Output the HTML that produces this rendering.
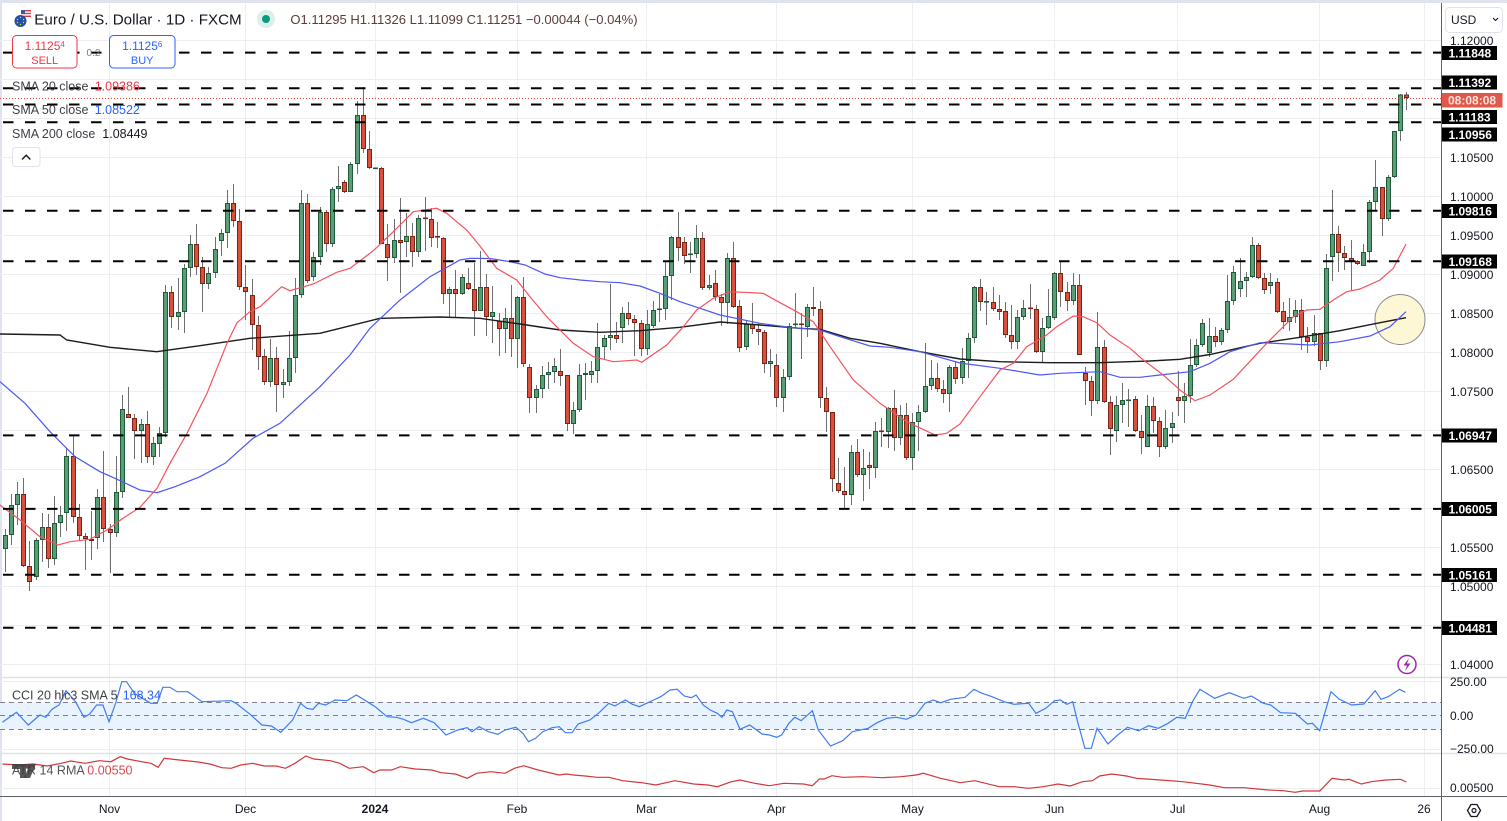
<!DOCTYPE html>
<html><head><meta charset="utf-8">
<style>
html,body{margin:0;padding:0;background:#fff;}
body{width:1507px;height:821px;overflow:hidden;}
svg{display:block;font-family:"Liberation Sans",sans-serif;}
</style></head>
<body>
<svg width="1507" height="821" viewBox="0 0 1507 821">
<rect x="0" y="0" width="1507" height="821" fill="#fff"/>
<!-- frame -->
<rect x="0" y="0" width="1507" height="3" fill="#e0e3ed"/>
<rect x="0" y="0" width="2" height="821" fill="#e0e3ed"/>

<!-- horizontal grid main -->
<g stroke="#eceef2" stroke-width="1">
<line x1="0" x2="1441" y1="40.5" y2="40.5"/><line x1="0" x2="1441" y1="79.5" y2="79.5"/><line x1="0" x2="1441" y1="118.5" y2="118.5"/><line x1="0" x2="1441" y1="157.5" y2="157.5"/><line x1="0" x2="1441" y1="196.5" y2="196.5"/><line x1="0" x2="1441" y1="235.5" y2="235.5"/><line x1="0" x2="1441" y1="274.5" y2="274.5"/><line x1="0" x2="1441" y1="313.5" y2="313.5"/><line x1="0" x2="1441" y1="352.5" y2="352.5"/><line x1="0" x2="1441" y1="391.5" y2="391.5"/><line x1="0" x2="1441" y1="430.5" y2="430.5"/><line x1="0" x2="1441" y1="469.5" y2="469.5"/><line x1="0" x2="1441" y1="508.5" y2="508.5"/><line x1="0" x2="1441" y1="547.5" y2="547.5"/><line x1="0" x2="1441" y1="586.5" y2="586.5"/><line x1="0" x2="1441" y1="625.5" y2="625.5"/><line x1="0" x2="1441" y1="664.5" y2="664.5"/>
<line x1="0" x2="1441" y1="681.5" y2="681.5"/><line x1="0" x2="1441" y1="749.5" y2="749.5"/><line x1="0" x2="1441" y1="788.5" y2="788.5"/>
</g>
<!-- vertical grid -->
<g stroke="#eceef2" stroke-width="1">
<line x1="109.5" x2="109.5" y1="3" y2="796"/><line x1="245.5" x2="245.5" y1="3" y2="796"/><line x1="375.5" x2="375.5" y1="3" y2="796"/><line x1="517.5" x2="517.5" y1="3" y2="796"/><line x1="646.5" x2="646.5" y1="3" y2="796"/><line x1="776.5" x2="776.5" y1="3" y2="796"/><line x1="912.5" x2="912.5" y1="3" y2="796"/><line x1="1054.5" x2="1054.5" y1="3" y2="796"/><line x1="1177.5" x2="1177.5" y1="3" y2="796"/><line x1="1319.5" x2="1319.5" y1="3" y2="796"/><line x1="1424.5" x2="1424.5" y1="3" y2="796"/>
</g>
<!-- pane separators -->
<line x1="0" x2="1507" y1="677.5" y2="677.5" stroke="#dfe1e6" stroke-width="1.5"/>
<line x1="0" x2="1507" y1="753.5" y2="753.5" stroke="#dfe1e6" stroke-width="1.5"/>

<!-- highlight circle -->
<circle cx="1400" cy="319.5" r="25" fill="#fdf7d6" stroke="#8a8a8a" stroke-width="1"/>

<!-- candles -->
<g id="cdl"></g>

<!-- moving averages -->
<polyline fill="none" stroke="#1c1c1c" stroke-width="1.4" points="0,334 60,335 66.7,340 110,347.3 156.7,351.7 200,345.7 250,338.3 320,333.3 380,318.3 440,317 480,318.3 520,324 560,330 600,332.3 640,330.7 680,327.3 720,322 760,325 800,328.3 820,329.3 850,338.3 880,343.3 920,351.7 960,359 1000,361.7 1050,362.7 1100,362.7 1150,361 1180,359.3 1210,354.5 1260,343.3 1300,337.3 1340,330.7 1380,322.7 1406,317.7"/>
<polyline fill="none" stroke="#4b57f7" stroke-width="1.2" points="0,381.7 25,403.3 50,431.7 75,456.7 100,471.7 115,478.3 140,490 157,492.7 175,486.7 200,476.7 225,463.3 253,438.3 280,423.3 320,386.7 350,355 370,328.3 400,300 430,276.7 460,260 470,258.3 490,258.5 510,261.7 525,265 545,274 560,277.7 580,280 600,281.7 620,282.7 640,286 660,293.3 680,301.7 700,308.3 720,315 760,323.3 790,327.3 820,330 840,336.7 870,346 890,347.3 920,351.7 960,363 1000,368.3 1040,375 1060,373.3 1100,371.7 1120,377.3 1140,377.3 1160,375 1190,371.7 1210,363.3 1230,351.7 1260,342.7 1290,344 1310,345 1340,341.7 1370,336 1390,326.7 1406,311.7"/>
<polyline fill="none" stroke="#f6525e" stroke-width="1.2" points="0,505 20,520 40,536.7 58,545 70,541.7 90,539.3 107,530 123,518.3 140,507.3 157,488.3 170,463.3 187,433.3 207,393.3 227,343.3 237,322.7 250,311.7 260,306.7 281.7,286.7 290,290.7 313.3,284 336.7,272.3 350,268.3 373.3,250.7 393.3,231.7 413.3,211.7 436.7,208.3 446.7,213.3 466.7,230 480,246 496.7,268.3 516.7,280 530,296.7 546.7,316.7 573.3,343.3 593.3,356.7 613.3,361.7 636.7,360 641.7,362.3 666.7,345 683.3,326.7 696.7,310 713.3,298.3 730,291.7 763.3,293.3 780,302.7 796.7,311.7 813.3,321.7 830,346.7 853.3,380 880,403.3 906.7,421.7 935,435 946.7,433.3 960,424 980,396.7 1000,370 1013.3,363.3 1026.7,346.7 1046.7,335 1056.7,326.7 1073.3,316 1083.3,316.7 1096.7,322.7 1110,335 1130,348.3 1143.3,360 1163.3,375 1180,390 1195,400.7 1210,395 1233.3,379.3 1266.7,343.3 1293.3,316.7 1306.7,310 1320,309.3 1333.3,300 1346.7,291.7 1360,289 1380,280 1393.3,268.3 1406,244"/>

<!-- horizontal dashed levels -->
<g stroke="#000" stroke-width="2" stroke-dasharray="10.5 11.5" stroke-dashoffset="-3">
<line x1="0" x2="1441" y1="52.6" y2="52.6"/>
<line x1="0" x2="1441" y1="88.2" y2="88.2"/>
<line x1="0" x2="1441" y1="104.5" y2="104.5"/>
<line x1="0" x2="1441" y1="122.2" y2="122.2"/>
<line x1="0" x2="1441" y1="210.7" y2="210.7"/>
<line x1="0" x2="1441" y1="261.2" y2="261.2"/>
<line x1="0" x2="1441" y1="435.4" y2="435.4"/>
<line x1="0" x2="1441" y1="508.9" y2="508.9"/>
<line x1="0" x2="1441" y1="574.7" y2="574.7"/>
<line x1="0" x2="1441" y1="627.7" y2="627.7"/>
</g>
<!-- current price dotted -->
<line x1="0" x2="1441" y1="98.5" y2="98.5" stroke="#e0453a" stroke-width="1" stroke-dasharray="1 2"/>

<!-- CCI pane -->
<rect x="0" y="702.3" width="1441" height="27" fill="#e8f3fd"/>
<g stroke="#7d8089" stroke-width="1" stroke-dasharray="5 4">
<line x1="0" x2="1441" y1="702.5" y2="702.5"/>
<line x1="0" x2="1441" y1="715.5" y2="715.5"/>
<line x1="0" x2="1441" y1="729.5" y2="729.5"/>
</g>
<polyline fill="none" stroke="#3f7cf5" stroke-width="1.2" points="2.4,722.3 16.5,712.3 28.3,725 40,715 45.8,717.3 51.9,709.3 59,705 66,690.7 75.5,701.7 84,717.3 89.7,714 96.7,705 102.9,705 109,721.7 115.6,703.3 121.8,681.7 126.5,681.7 134.5,693.3 144,699.3 151,703.3 157.2,703.3 162.8,687.3 169.9,687.3 177,691.7 187.8,691.7 202,701.7 231.2,700.7 236,703.3 250.1,714.3 261.9,725 271.4,726 280.8,732.3 292.6,720 300.6,703.3 306.7,708.3 312.9,709.3 318.5,703.3 325.6,705 335.1,700 346.9,700.7 356.3,695 363.4,699.3 375.2,706.7 387,716.7 396.4,717.3 403.5,719.3 411.5,722.7 423.3,718.3 434.2,722.7 446,735 457.8,730 467.2,727.7 471.9,731.7 479,726.7 488.4,731.7 497.9,734.3 505,730 515.8,727.3 522.9,733.3 528.5,741.7 535.6,738.3 542.7,731.7 552.1,727.7 559.2,726.7 565.4,732.7 572,732.7 578.1,724 589.9,720 598.4,713.3 608.8,703.3 614.9,706 625.3,700 632.4,704.3 639.4,706.7 646.5,703.3 653.6,700 660.7,696.7 670.1,690 677.2,689.3 684.3,696 691.4,697.7 696.1,695 703.2,705 710.2,710 717.3,713.3 722,717.3 726.8,710 732.4,711.7 740,729.3 749.8,725 762,734 769.4,735 776.7,737.3 781.6,735 788.9,723.3 794.8,717.3 801.2,720.7 812.4,710.7 818.3,730 830.5,746 842.7,740.7 852.5,731.7 868.2,728.3 877,722.7 886.8,718.3 896.6,717.3 906.3,719.3 916.1,715 924.9,703.3 933.2,700 940.6,702.7 950.4,699.3 965,697.3 973.9,689.3 982.2,693.3 992,696.7 1004.2,701.7 1014,704.3 1028.6,703.3 1036,713.3 1045.8,708.3 1054.6,700.7 1060.5,700 1066.8,704.3 1072.7,701.7 1077.6,721.7 1084.9,748.3 1091.3,748.3 1097.1,728.3 1107.9,744 1117.7,735 1127.5,727.3 1138.7,730.7 1148.5,725.7 1158.3,728.3 1168.1,723.3 1176.9,717.3 1185.2,718.3 1192.5,701.7 1199.9,689.3 1214.6,698.3 1229.2,692.7 1243.9,698.3 1251.3,696 1263.5,703.3 1270.8,705 1280.6,712.7 1295.3,713.3 1307.5,724 1312.4,723.3 1319.7,730.7 1331,691.7 1339.3,699.3 1351.6,705 1363.8,704 1375.1,690.7 1381,699.3 1388.2,696.7 1399.5,689.3 1405.4,692.3"/>

<!-- ATR pane -->
<polyline fill="none" stroke="#d2363a" stroke-width="1.2" points="2.4,764 18.9,765 33,764 47.2,766 61.3,763.3 70.8,761 84.9,763.3 99.1,760.7 110.9,761.7 120.3,756.7 127.4,759 141.6,761.7 151,763.3 158.1,767.3 164.2,758.3 179.3,760 198.2,762 210,764 221.8,767.7 231.2,768.3 240.7,765 252.5,763.3 264.3,766 276.1,766 285.5,768.3 295,763.3 305.8,756 313.8,759 330.3,760.7 339.8,763.3 349.2,768.3 363.4,766.7 373.8,772.7 379.9,770 391.7,770 400.2,766.7 415.3,769 431.8,770 441.2,772.7 455.4,774 467.2,778.3 476.6,773.3 490.8,771.7 505,773.3 514.4,768.3 523.8,765.7 538,770 559.2,775 566.3,774 573.4,775 585.2,776 597,777.3 608.8,777.3 622.9,780.7 641.8,782.7 656,785 674.8,780.7 693.7,784 707.9,785 717.3,786.7 731.5,781.7 740,780 754.7,783.3 769.4,785.7 784,783.3 803.6,784 812.4,785.7 819.3,779 824.1,779 832,775.7 842.7,777.3 862.3,776.7 881.9,777.7 901.4,776.7 916.1,775 923.5,773.3 940.6,778.3 960.2,782.7 974.8,780.7 999.3,786.7 1014,786.7 1028.6,788.3 1043.3,786.7 1058,784 1070.2,786 1082.5,781.7 1092.3,780.7 1099.6,776 1111.8,774 1126.5,776 1136.3,778.3 1160.7,780 1182.8,781.7 1209.7,785 1224.3,787.7 1243.9,787.7 1268.4,790 1283.1,790.7 1295.3,792.3 1302.6,791 1319.7,791 1332,778.3 1344.2,780 1349.1,779.3 1361.3,784 1371.2,781.7 1385.8,780 1400.5,779.3 1406.3,782"/>

<!-- axes borders -->
<line x1="1441.5" x2="1441.5" y1="3" y2="821" stroke="#5d606b" stroke-width="1"/>
<line x1="0" x2="1507" y1="796.5" y2="796.5" stroke="#5d606b" stroke-width="1"/>

<!-- header -->
<g>
<rect x="21" y="10" width="10" height="8" fill="#fff"/>
<rect x="21" y="10" width="10" height="1.4" fill="#e0393e"/>
<rect x="21" y="12.8" width="10" height="1.4" fill="#e0393e"/>
<rect x="21" y="15.6" width="10" height="1.4" fill="#e0393e"/>
<rect x="21" y="10" width="4" height="4" fill="#3c5a9a"/>
<circle cx="20.5" cy="21" r="6" fill="#1f4fa8"/>
<circle cx="20.5" cy="17.5" r="0.7" fill="#f7d22b"/><circle cx="23.5" cy="19.5" r="0.7" fill="#f7d22b"/><circle cx="23.5" cy="22.5" r="0.7" fill="#f7d22b"/><circle cx="20.5" cy="24.5" r="0.7" fill="#f7d22b"/><circle cx="17.5" cy="22.5" r="0.7" fill="#f7d22b"/><circle cx="17.5" cy="19.5" r="0.7" fill="#f7d22b"/>
</g>
<text x="34.3" y="24.5" font-size="15" fill="#131722" textLength="207.4" lengthAdjust="spacingAndGlyphs">Euro / U.S. Dollar · 1D · FXCM</text>
<circle cx="266" cy="19" r="9" fill="#dbf0e8"/>
<circle cx="266" cy="19" r="4" fill="#089981"/>
<text x="290.4" y="24" font-size="13" fill="#5b3c3a" textLength="347.2" lengthAdjust="spacingAndGlyphs">O1.11295 H1.11326 L1.11099 C1.11251 −0.00044 (−0.04%)</text>

<!-- sell / buy -->
<rect x="12.5" y="35.5" width="64.5" height="32.5" rx="4" fill="#fff" stroke="#f23645" stroke-width="1"/>
<text x="44.7" y="50" font-size="12" fill="#f23645" text-anchor="middle">1.1125<tspan font-size="8" dy="-3">4</tspan></text>
<text x="44.7" y="64" font-size="11" fill="#f23645" text-anchor="middle">SELL</text>
<text x="93.5" y="56" font-size="10" fill="#787b86" text-anchor="middle">0.2</text>
<rect x="109.5" y="35.5" width="65.5" height="32.5" rx="4" fill="#fff" stroke="#2962ff" stroke-width="1"/>
<text x="142.2" y="50" font-size="12" fill="#2962ff" text-anchor="middle">1.1125<tspan font-size="8" dy="-3">6</tspan></text>
<text x="142.2" y="64" font-size="11" fill="#2962ff" text-anchor="middle">BUY</text>

<!-- legend -->
<text x="12" y="90.5" font-size="12.5" fill="#3d3f47">SMA 20 close <tspan x="94.7" fill="#f23645">1.09386</tspan></text>
<text x="12" y="114" font-size="12.5" fill="#3d3f47">SMA 50 close <tspan x="94.7" fill="#2962ff">1.08522</tspan></text>
<text x="12" y="138" font-size="12.5" fill="#3d3f47">SMA 200 close <tspan x="102.3" fill="#131722">1.08449</tspan></text>
<rect x="12.5" y="147.5" width="27.5" height="19" rx="3" fill="#fff" stroke="#e0e3eb"/>
<path d="M22 159.5 L26.2 155.3 L30.4 159.5" fill="none" stroke="#131722" stroke-width="1.4"/>

<!-- indicator legends -->
<text x="12" y="699.5" font-size="12.5" fill="#3d3f47">CCI 20 hlc3 SMA 5 <tspan x="122.7" fill="#2962ff">168.34</tspan></text>
<path d="M12 764 h14 v14 h-6 v-9 h-8 z" fill="#3a3a3a" opacity="0.85"/>
<path d="M30 764 h6 l-6 14 h-6 z" fill="#3a3a3a" opacity="0.85"/>
<circle cx="28" cy="766.5" r="2.5" fill="#3a3a3a" opacity="0.85"/>
<text x="12" y="774.5" font-size="12.5" fill="#3d3f47" opacity="0.9">ATR 14 RMA <tspan x="87.3" fill="#d2363a">0.00550</tspan></text>

<!-- price axis labels -->
<g font-size="12" fill="#131722">
<text x="1450" y="45">1.12000</text>
<text x="1450" y="162">1.10500</text>
<text x="1450" y="201">1.10000</text>
<text x="1450" y="240">1.09500</text>
<text x="1450" y="279">1.09000</text>
<text x="1450" y="318">1.08500</text>
<text x="1450" y="357">1.08000</text>
<text x="1450" y="396">1.07500</text>
<text x="1450" y="474">1.06500</text>
<text x="1450" y="552">1.05500</text>
<text x="1450" y="591">1.05000</text>
<text x="1450" y="669">1.04000</text>
<text x="1450" y="686">250.00</text>
<text x="1450" y="720">0.00</text>
<text x="1450" y="753">−250.00</text>
<text x="1450" y="792">0.00500</text>
</g>
<!-- USD box -->
<rect x="1445.5" y="7.5" width="57" height="25" rx="4" fill="#fff" stroke="#e0e3eb"/>
<text x="1451" y="24" font-size="12" fill="#131722">USD</text>
<path d="M1493 18 l2.5 2.5 l2.5 -2.5" fill="none" stroke="#131722" stroke-width="1.1"/>

<!-- level labels -->
<g font-size="12" font-weight="bold" fill="#fff">
<rect x="1442" y="46" width="55" height="14" fill="#000"/><text x="1448.5" y="57.5">1.11848</text>
<rect x="1442" y="75.5" width="55" height="14" fill="#000"/><text x="1448.5" y="87">1.11392</text>
<rect x="1442" y="110" width="55" height="14" fill="#000"/><text x="1448.5" y="121.5">1.11183</text>
<rect x="1442" y="127.5" width="55" height="14" fill="#000"/><text x="1448.5" y="139">1.10956</text>
<rect x="1442" y="204" width="55" height="14" fill="#000"/><text x="1448.5" y="215.5">1.09816</text>
<rect x="1442" y="254.5" width="55" height="14" fill="#000"/><text x="1448.5" y="266">1.09168</text>
<rect x="1442" y="428.5" width="55" height="14" fill="#000"/><text x="1448.5" y="440">1.06947</text>
<rect x="1442" y="502" width="55" height="14" fill="#000"/><text x="1448.5" y="513.5">1.06005</text>
<rect x="1442" y="568" width="55" height="14" fill="#000"/><text x="1448.5" y="579.5">1.05161</text>
<rect x="1442" y="621" width="55" height="14" fill="#000"/><text x="1448.5" y="632.5">1.04481</text>
</g>
<rect x="1442" y="93" width="60.5" height="14.5" fill="#e0584a"/>
<text x="1448" y="104.5" font-size="12" font-weight="bold" fill="#fde4df">08:08:08</text>

<!-- lightning icon -->
<circle cx="1407" cy="664.5" r="9" fill="none" stroke="#9c27b0" stroke-width="1.5"/>
<path d="M1409 658 L1403.5 665.5 L1407 665.5 L1405 671 L1410.5 663.5 L1407 663.5 Z" fill="#9c27b0"/>

<!-- time axis -->
<g font-size="12" fill="#131722" text-anchor="middle">
<text x="109.5" y="813">Nov</text>
<text x="245.5" y="813">Dec</text>
<text x="375" y="813" font-weight="bold">2024</text>
<text x="517" y="813">Feb</text>
<text x="646.5" y="813">Mar</text>
<text x="776.5" y="813">Apr</text>
<text x="912.5" y="813">May</text>
<text x="1054.5" y="813">Jun</text>
<text x="1177.5" y="813">Jul</text>
<text x="1319.5" y="813">Aug</text>
<text x="1424" y="813">26</text>
</g>
<!-- settings icon -->
<path d="M1471 804.5 L1477 804.5 L1480.5 810.5 L1477 816.5 L1471 816.5 L1467.5 810.5 Z" fill="none" stroke="#131722" stroke-width="1.3"/>
<circle cx="1474" cy="810.5" r="2" fill="none" stroke="#131722" stroke-width="1.2"/>
</svg>
<script>
var D=[
[1,535,549,529,572],[1,505,535,494,545],[1,494,505,482,525],[0,494,566,478,567],[0,566,582,541,591],
[1,540,577,538,580],[1,527,540,513,562],[0,527,559,514,568],[1,523,559,496,565],[1,515,523,506,537],
[1,456,513,448,531],[0,456,517,435,523],[0,517,536,504,540],[0,536,539,533,570],[0,539,541,511,560],
[1,497,538,489,549],[0,497,529,451,542],[0,529,533,524,573],[1,492,533,456,537],[1,409,492,395,498],
[0,414,418,387,418],[0,418,431,414,459],[1,424,431,419,463],[0,424,457,411,463],[1,443,457,437,465],
[1,433,444,427,457],[1,292,433,285,437],[0,292,317,286,328],[1,312,317,278,330],[1,268,312,264,333],
[1,244,268,235,277],[0,244,267,224,275],[0,267,284,257,312],[1,273,284,267,289],[1,249,273,237,278],
[1,233,241,229,256],[1,203,233,190,248],[0,203,221,184,227],[0,221,287,209,290],[0,287,292,265,320],
[0,295,325,279,350],[0,325,357,316,370],[0,356,382,349,385],[1,358,382,339,387],[0,358,385,347,412],
[1,382,385,369,398],[1,358,382,331,386],[1,295,358,278,373],[1,203,295,190,298],[0,203,281,194,283],
[1,257,277,252,281],[1,212,257,207,265],[0,212,244,210,252],[1,189,244,187,247],[1,186,189,166,202],
[0,182,192,180,193],[1,164,192,162,192],[1,115,164,101,174],[0,115,149,87,153],[0,149,168,131,169],
[1,168,168.5,168,168.5],[0,168,244,167,244],[0,244,258,224,281],[1,240,258,219,263],[0,240,243,198,293],
[1,236,242,213,257],[0,236,252,223,267],[1,218,252,215,257],[0,218,219,197,251],[0,219,238,208,247],
[0,236.5,237.5,222,248],[0,238,294,237,304],[1,289,294,287,317],[0,289,294,270,317],[1,277,294,274,295],
[0,283,289,268,290],[0,289,311,263,336],[1,287,311,251,311],[0,287,317,274,336],[1,312,317,286,343],
[0,321,329,313,356],[1,318,329,308,353],[0,318,339,285,357],[1,297,339,296,368],[0,297,364,277,367],
[0,367,398,364,413],[1,389,398,385,413],[1,375,389,366,398],[1,372,375,362,389],[1,366,372,358,383],
[0,371,376,349,386],[0,375,424,375,431],[1,410,424,402,434],[1,375,410,364,412],[1,373,375,363,400],
[1,371,375,361,383],[1,347,371,323,383],[1,338,347,335,359],[1,335,338,284,350],[0,335,339,322,343],
[1,313,328,307,343],[0,313,319,302,325],[0,319,323,315,356],[0,323,349,320,356],[1,324,349,310,355],
[1,310,326,301,328],[1,309,310,294,322],[1,276,309,262,320],[1,237,276,236,300],[0,237,248,212,261],
[0,242,256,237,264],[1,254,254.5,242,273],[1,238,254,225,258],[0,238,288,232,290],[1,285,288,275,290],
[0,283,297,270,301],[0,297,303,294,326],[1,258,303,253,324],[0,258,307,242,308],[0,306,348,300,352],
[1,324,347,320,350],[0,324,329,303,334],[0,329,332,323,345],[0,332,364,330,373],[1,361,364,349,377],
[0,365,398,354,407],[1,377,398,369,412],[1,326,377,323,380],[1,324,324.5,293,328],[0,324,324.5,313,359],
[1,307,327,304,337],[0,307,309,287,316],[0,309,398,301,408],[0,398,412,387,432],[0,412,479,412,492],
[0,483,491,458,493],[0,491,495,467,508],[1,452,495,445,505],[0,452,475,439,477],[1,468,475,449,501],
[0,465,468,452,489],[1,431,468,422,478],[0,431,432,418,447],[1,408,432,407,448],[0,408,438,390,451],
[1,415,438,405,445],[0,415,458,403,460],[1,422,458,413,470],[1,412,422,405,451],[1,386,412,343,413],
[1,378,386,360,390],[0,378,389,363,392],[0,389,394,380,403],[1,367,394,365,412],[0,367,379,362,384],
[1,361,378,348,384],[1,338,361,333,378],[1,287,338,286,343],[0,287,302,279,311],[1,301.5,302,292,325],
[0,302,309,287,311],[0,309,312,295,320],[0,311,335,302,338],[0,335,342,305,349],[1,317,342,310,349],
[1,308,317,300,320],[0,308,308.5,284,319],[0,309,352,305,353],[1,328,352,318,363],[1,316,328,289,329],
[1,273,318,272,320],[0,273,292,262,307],[0,292,301,282,311],[1,285,301,273,305],[0,285,355,274,355],
[0,373,381,367,405],[0,381,401,376,416],[1,347,401,312,404],[0,347,402,340,403],[0,402,429,396,455],
[1,405,431,396,442],[1,400,405,383,423],[1,400,400.5,389,427],[0,399,431,396,432],[0,431,438,415,454],
[1,406,447,395,447],[0,406,421,397,433],[0,421,447,417,457],[1,428,447,410,449],[1,423,428,412,443],
[0,397,401,371,416],[1,396,401,383,423],[1,365,396,339,403],[1,345,365,339,367],[1,323,345,319,347],
[1,336,353,318,357],[0,336,342,327,347],[1,330,342,328,345],[1,301,330,275,333],[1,272,301,266,305],
[1,281,289,258,297],[1,277,281,272,297],[1,245,277,237,278],[0,245,278,243,279],[0,278,290,273,294],
[1,282,286,273,294],[0,282,312,278,313],[0,311,322,302,329],[1,317,322,298,331],[1,310,317,300,323],
[0,310,337,299,350],[0,337,342,327,353],[1,333,342,315,346],[0,333,361,333,370],[1,268,361,254,367],
[1,234,257,190,281],[0,234,253,226,272],[0,253,258,246,270],[0,258,261,240,290],[0,261,264,260,265],
[1,252,266,244,266],[1,202,252,200,263],[1,187,202,160,211],[0,187,219,187,236],[1,177,219,175,221],
[1,131,177,131,178],[1,94.5,131,94,141],[0,94.5,98,92,110]
];
var s='';
for(var i=0;i<D.length;i++){
  var d=D[i];var cx=4.7+i*6.174;var R=Math.round(cx);
  var fill=d[0]?'#5a9e78':'#d9513c';var bd=d[0]?'#1f5a39':'#7a2418';
  s+='<line x1="'+(R+0.5)+'" x2="'+(R+0.5)+'" y1="'+d[3]+'" y2="'+d[4]+'" stroke="#6e6e6e" stroke-width="1"/>';
  var h=d[2]-d[1];
  if(h<1.6){
    s+='<rect x="'+(R-2)+'" y="'+(d[1]-0.5)+'" width="5" height="1.6" fill="'+bd+'"/>';
  }else{
    s+='<rect x="'+(R-1.5)+'" y="'+(d[1]+0.5)+'" width="4" height="'+(h-1)+'" fill="'+fill+'" stroke="'+bd+'" stroke-width="1"/>';
  }
}
document.getElementById('cdl').innerHTML=s;
</script>
</body></html>
